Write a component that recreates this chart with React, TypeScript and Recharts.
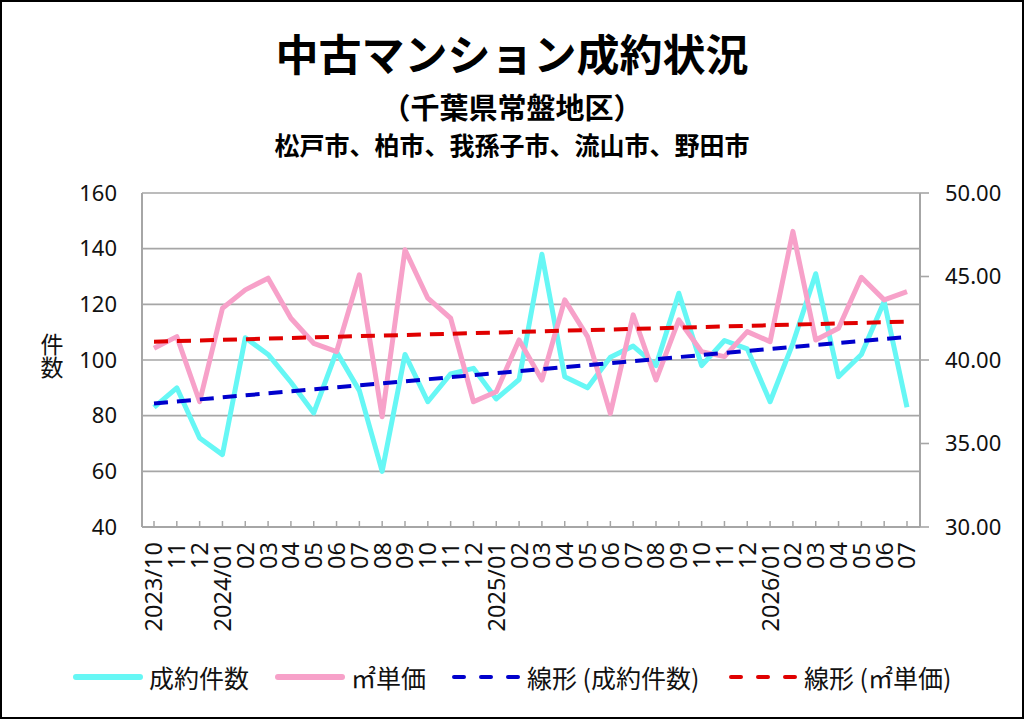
import React from "react";
import { LineChart, Line, XAxis, YAxis, CartesianGrid, ReferenceLine } from "recharts";

// months (unique keys) and the labels printed under the axis
const months = [
  "2023/10", "2023/11", "2023/12",
  "2024/01", "2024/02", "2024/03", "2024/04", "2024/05", "2024/06",
  "2024/07", "2024/08", "2024/09", "2024/10", "2024/11", "2024/12",
  "2025/01", "2025/02", "2025/03", "2025/04", "2025/05", "2025/06",
  "2025/07", "2025/08", "2025/09", "2025/10", "2025/11", "2025/12",
  "2026/01", "2026/02", "2026/03", "2026/04", "2026/05", "2026/06", "2026/07",
];
const tickLabels = [
  "2023/10", "11", "12",
  "2024/01", "02", "03", "04", "05", "06", "07", "08", "09", "10", "11", "12",
  "2025/01", "02", "03", "04", "05", "06", "07", "08", "09", "10", "11", "12",
  "2026/01", "02", "03", "04", "05", "06", "07",
];

// 成約件数 (left axis)
const contracts = [
  83, 90, 72, 66, 108, 102, 92, 81, 103, 89, 60, 102, 85, 95, 97,
  86, 93, 138, 94, 90, 101, 105, 98, 124, 98, 107, 104, 85, 106, 131,
  94, 102, 121, 83,
];

// ㎡単価 (right axis)
const unitPrice = [
  40.7, 41.4, 37.5, 43.1, 44.2, 44.9, 42.5, 41.0, 40.5, 45.1, 36.6, 46.6,
  43.7, 42.5, 37.5, 38.1, 41.2, 38.8, 43.6, 41.4, 36.8, 42.7, 38.8, 42.4,
  40.5, 40.2, 41.7, 41.1, 47.7, 41.2, 41.9, 44.95, 43.6, 44.1,
];

// trend line endpoints
const contractsTrend = [84.4, 108.3];
const unitPriceTrend = [41.1, 42.3];

const leftTicks = [40, 60, 80, 100, 120, 140, 160];
const rightTicks = [30, 35, 40, 45, 50];

const data = months.map((m, i) => ({
  month: m,
  contracts: contracts[i],
  unitPrice: unitPrice[i],
}));

const GRID = "#a6a6a6";
const JP = "'Noto Sans CJK JP', 'Noto Sans', sans-serif";
const NUM = "'Noto Sans', 'Noto Sans CJK JP', sans-serif";

const legendItems = [
  { label: "成約件数", color: "#66f7f5", dashed: false, left: 73 },
  { label: "㎡単価", color: "#f7a1c9", dashed: false, left: 275 },
  { label: "線形 (成約件数)", color: "#0000cc", dashed: true, left: 451 },
  { label: "線形 (㎡単価)", color: "#e00000", dashed: true, left: 728 },
];

function MonthTick(props: any) {
  const { x, y, payload } = props;
  const label = tickLabels[payload.index] ?? payload.value;
  return (
    <g>
      <line x1={x} y1={y} x2={x} y2={y - 6} stroke={GRID} strokeWidth={1.5} />
      <text
        transform={`translate(${x},${y + 15}) rotate(-90)`}
        textAnchor="end"
        dy="0.36em"
        fontSize={23.5}
        fontFamily={NUM}
        fill="#111"
      >
        {label}
      </text>
    </g>
  );
}

export default function App() {
  return (
    <div style={{ position: "relative", width: 1024, height: 719, background: "#fff" }}>
      <style>{`body{margin:0}`}</style>

      <div style={{ position: "absolute", left: 0, right: 0, top: 24, textAlign: "center", fontFamily: JP, fontWeight: 700, fontSize: 43, lineHeight: "56px", color: "#000" }}>
        中古マンション成約状況
      </div>
      <div style={{ position: "absolute", left: 0, right: 0, top: 87, textAlign: "center", fontFamily: JP, fontWeight: 700, fontSize: 29, lineHeight: "38px", color: "#000" }}>
        （千葉県常盤地区）
      </div>
      <div style={{ position: "absolute", left: 0, right: 0, top: 127, textAlign: "center", fontFamily: JP, fontWeight: 700, fontSize: 25, lineHeight: "34px", color: "#000" }}>
        松戸市、柏市、我孫子市、流山市、野田市
      </div>

      <div style={{ position: "absolute", left: 39, top: 333, writingMode: "vertical-rl", fontFamily: JP, fontSize: 23, lineHeight: "26px", color: "#111" }}>
        件数
      </div>

      <div style={{ position: "absolute", left: 0, top: 0 }}>
        <LineChart width={1024} height={719} data={data} margin={{ top: 193, right: 0, bottom: 0, left: 0 }}>
          <CartesianGrid yAxisId="left" vertical={false} stroke={GRID} strokeWidth={1.6} />
          <XAxis
            dataKey="month"
            height={192}
            padding={{ left: 12, right: 13 }}
            interval={0}
            tickSize={0}
            tickMargin={0}
            tickLine={false}
            axisLine={{ stroke: GRID, strokeWidth: 2 }}
            tick={<MonthTick />}
          />
          <YAxis
            yAxisId="left"
            width={142}
            domain={[40, 160]}
            ticks={leftTicks}
            interval={0}
            tickSize={0}
            tickMargin={25}
            tickLine={false}
            axisLine={{ stroke: GRID, strokeWidth: 2 }}
            tick={{ fill: "#111", fontSize: 22, fontFamily: NUM }}
          />
          <YAxis
            yAxisId="right"
            orientation="right"
            width={104}
            domain={[30, 50]}
            ticks={rightTicks}
            interval={0}
            tickSize={9}
            tickMargin={16}
            tickLine={{ stroke: GRID, strokeWidth: 1.6 }}
            axisLine={{ stroke: GRID, strokeWidth: 2 }}
            tickFormatter={(v: number) => v.toFixed(2)}
            tick={{ fill: "#111", fontSize: 22, fontFamily: NUM }}
          />
          <Line
            yAxisId="left"
            dataKey="contracts"
            stroke="#66f7f5"
            strokeWidth={5}
            dot={false}
            strokeLinejoin="round"
            isAnimationActive={false}
          />
          <Line
            yAxisId="right"
            dataKey="unitPrice"
            stroke="#f7a1c9"
            strokeWidth={5}
            dot={false}
            strokeLinejoin="round"
            isAnimationActive={false}
          />
          <ReferenceLine
            yAxisId="left"
            segment={[
              { x: months[0], y: contractsTrend[0] },
              { x: months[months.length - 1], y: contractsTrend[1] },
            ]}
            stroke="#0000cc"
            strokeWidth={4}
            strokeDasharray="14 9"
          />
          <ReferenceLine
            yAxisId="right"
            segment={[
              { x: months[0], y: unitPriceTrend[0] },
              { x: months[months.length - 1], y: unitPriceTrend[1] },
            ]}
            stroke="#e00000"
            strokeWidth={4}
            strokeDasharray="14 9"
          />
        </LineChart>
      </div>

      {legendItems.map((item) => (
        <div
          key={item.label}
          style={{ position: "absolute", left: item.left, top: 659, height: 36, display: "flex", alignItems: "center" }}
        >
          <svg width={70} height={10} style={{ marginRight: 6 }}>
            <line
              x1={3}
              y1={5}
              x2={67}
              y2={5}
              stroke={item.color}
              strokeWidth={item.dashed ? 4 : 6}
              strokeLinecap="round"
              strokeDasharray={item.dashed ? "10 17" : undefined}
            />
          </svg>
          <span style={{ fontFamily: JP, fontSize: 25, color: "#111", whiteSpace: "nowrap" }}>{item.label}</span>
        </div>
      ))}

      <div style={{ position: "absolute", left: 0, top: 0, width: 1024, height: 719, border: "2px solid #000", boxSizing: "border-box", pointerEvents: "none" }} />
    </div>
  );
}
